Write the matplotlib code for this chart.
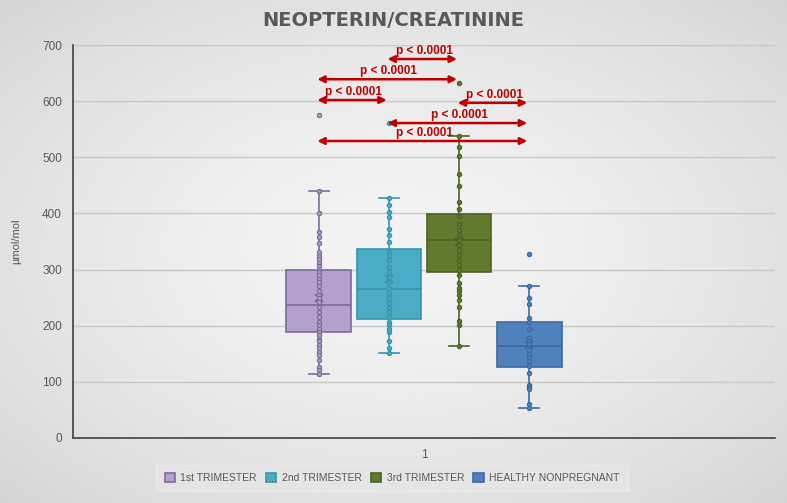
import matplotlib
matplotlib.use("Agg")
import matplotlib.pyplot as plt
import numpy as np

# values (µmol/mol)
groups = ["1st TRIMESTER", "2nd TRIMESTER", "3rd TRIMESTER", "HEALTHY NONPREGNANT"]
t1_points = [575, 440, 400, 367, 358, 347, 331, 324, 318, 312, 306, 300, 296, 290, 284, 278,
             270, 261, 255, 249, 243, 234, 225, 216, 207, 201, 195, 189, 183, 177, 172, 166,
             160, 154, 148, 139, 127, 121, 114]
t2_points = [561, 427, 415, 403, 393, 372, 362, 350, 332, 326, 317, 305, 296, 287, 278, 268,
             258, 249, 240, 231, 225, 216, 207, 201, 195, 189, 172, 160, 152]
t3_points = [633, 538, 519, 502, 470, 449, 421, 407, 395, 382, 370, 361, 352, 344, 335, 326,
             317, 308, 299, 290, 276, 268, 261, 255, 246, 233, 209, 201, 163]
hn_points = [327, 271, 249, 238, 214, 206, 194, 179, 173, 167, 157, 150, 144, 138, 128, 116,
             94, 90, 87, 61, 53]
all_points = [t1_points, t2_points, t3_points, hn_points]

q1 = [189, 212, 296, 126]
med = [237, 265, 352, 163]
q3 = [299, 337, 399, 206]
whislo = [114, 152, 163, 53]
whishi = [440, 427, 538, 271]
means = [249, 283, 350, 165]

# significance brackets: (from group, to group, y)
comparisons = [(1, 2, 675), (0, 2, 639), (0, 1, 602), (2, 3, 597), (1, 3, 561), (0, 3, 529)]
p_label = "p < 0.0001"

fills = ["#b3a2cd", "#4bacc6", "#617a2d", "#4f81bd"]
edges = ["#7d6a9c", "#3793ab", "#4c6224", "#3b6aa3"]
text_c = "#595959"
plt.rcParams["font.family"] = ["Liberation Sans", "DejaVu Sans"]

W, H = 787, 503
fig = plt.figure(figsize=(W / 100, H / 100), dpi=100)

# Excel-style radial gray gradient background
bg = fig.add_axes([0, 0, 1, 1], zorder=-10)
yy, xx = np.mgrid[-1:1:200j, -1:1:300j]
r = np.sqrt(xx ** 2 + yy ** 2) / np.sqrt(2)
bg.imshow(0.955 - 0.12 * r ** 1.5, cmap="gray", vmin=0, vmax=1, aspect="auto",
          extent=[0, 1, 0, 1])
bg.axis("off")

ax = fig.add_axes([73 / W, 65 / H, (775 - 73) / W, (438 - 45) / H])
ax.patch.set_alpha(0)

step, width = 0.1, 0.092
pos = [1 + (i - 1.5) * step for i in range(4)]

for i in range(4):
    st = dict(q1=q1[i], med=med[i], q3=q3[i], whislo=whislo[i], whishi=whishi[i],
              mean=means[i], fliers=[])
    ax.bxp([st], positions=[pos[i]], widths=width, patch_artist=True,
           showmeans=True, showfliers=False, capwidths=0.028,
           boxprops=dict(facecolor=fills[i], edgecolor=edges[i], lw=1.2),
           medianprops=dict(color=edges[i], lw=1.2),
           whiskerprops=dict(color=edges[i], lw=1.2),
           capprops=dict(color=edges[i], lw=1.2),
           meanprops=dict(marker="x", markeredgecolor=edges[i], markersize=6, mew=1.3),
           zorder=3)
    pts = all_points[i]
    ax.plot([pos[i]] * len(pts), pts, "o", ms=3.0, mfc=fills[i], mec=edges[i], mew=0.9,
            zorder=4, ls="none")

red = "#c00000"
for a, b, y in comparisons:
    ax.annotate("", xy=(pos[a] - 0.002, y), xytext=(pos[b] - 0.003, y),
                arrowprops=dict(arrowstyle="<|-|>", color=red, lw=1.8, mutation_scale=10,
                                shrinkA=0, shrinkB=0), zorder=5)
    ax.text((pos[a] + pos[b]) / 2, y + 4, p_label, color=red, fontsize=8.5,
            fontweight="bold", ha="center", va="bottom", zorder=5)

ax.set_xlim(0.5, 1.5)
ax.set_ylim(0, 700)
ax.set_yticks(range(0, 701, 100))
ax.set_xticks([1])
ax.set_xticklabels(["1"])
ax.grid(axis="y", color="#c8c8c8", lw=1.0)
ax.set_axisbelow(True)
ax.tick_params(length=0, labelsize=8.5, colors=text_c, pad=8)
for s in ["top", "right"]:
    ax.spines[s].set_visible(False)
for s in ["left", "bottom"]:
    ax.spines[s].set_color("#404040")
    ax.spines[s].set_linewidth(1.2)
ax.set_ylabel("µmol/mol", fontsize=8, color=text_c, labelpad=15)

fig.text(0.5, 1 - 20 / H, "NEOPTERIN/CREATININE", ha="center", va="center",
         fontsize=14, fontweight="bold", color=text_c, family="DejaVu Sans")

handles = [plt.Rectangle((0, 0), 1, 1, facecolor=fills[i], edgecolor=edges[i], lw=1.2)
           for i in range(4)]
leg = fig.legend(handles, groups, loc="center", bbox_to_anchor=(392 / W, 1 - 478 / H),
                 ncol=4, fontsize=7.5, frameon=True, handlelength=1.0, handleheight=1.0,
                 handletextpad=0.5, columnspacing=0.9, borderpad=0.8)
leg.get_frame().set_facecolor("#e6e6e6")
leg.get_frame().set_edgecolor("#ececec")
leg.get_frame().set_boxstyle("square", pad=0)
for t in leg.get_texts():
    t.set_color(text_c)

fig.savefig("out.png", dpi=100)
